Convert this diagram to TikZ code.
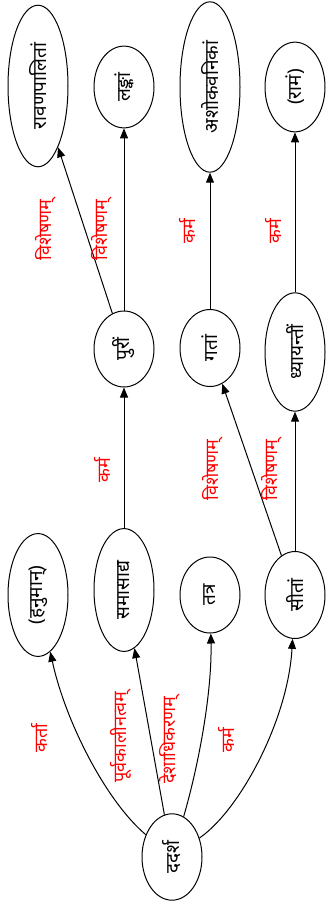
\documentclass[tikz,border=0pt]{standalone}
\usepackage{fontspec}
\newfontfamily\deva[Script=Devanagari]{Noto Sans}
\usetikzlibrary{shapes.geometric,arrows.meta,positioning}
\tikzset{>={Triangle[length=10pt,width=8pt]}}
\tikzset{word/.style={ellipse, draw, line width=1pt, rotate=90, inner xsep=14pt,
    inner ysep=3pt, minimum height=60pt, minimum width=76pt,
    font=\deva\fontsize{19}{22}\selectfont}}
\tikzset{rel/.style={text=red, rotate=90, inner sep=0pt,
    font=\deva\fontsize{18}{21}\selectfont}}

\begin{document}
\begin{tikzpicture}[x=1pt, y=-1pt, line width=1pt]
  \useasboundingbox (0,0) rectangle (326,901);
  % words
  \node[word] (dadarsha) at (172,857) {ददर्श};
  \node[word] (hanuman) at (38,595) {(हनुमान्)};
  \node[word] (samasadya) at (124,590) {समासाद्य};
  \node[word] (tatra) at (210,595) {तत्र};
  \node[word] (sitam) at (295,595) {सीतां};
  \node[word] (purim) at (124,349) {पुरीं};
  \node[word] (gatam) at (210,348) {गतां};
  \node[word] (dhyayantim) at (295,352) {ध्यायन्तीं};
  \node[word] (ravanapalitam) at (38,86) {रावणपालितां};
  \node[word] (lankam) at (124,87) {लङ्कां};
  \node[word] (ashokavanikam) at (210,87) {अशोकवनिकां};
  \node[word] (ramam) at (295,87) {(रामं)};
  % relations
  \draw[->] (dadarsha) .. controls (105,800) and (65,720) .. (hanuman);
  \draw[->] (dadarsha) -- (samasadya);
  \draw[->] (dadarsha) .. controls (200,760) and (212,690) .. (tatra);
  \draw[->] (dadarsha) .. controls (240,810) and (288,720) .. (sitam);
  \draw[->] (samasadya) -- (purim);
  \draw[->] (purim) -- (ravanapalitam);
  \draw[->] (purim) -- (lankam);
  \draw[->] (sitam) -- (gatam);
  \draw[->] (sitam) -- (dhyayantim);
  \draw[->] (gatam) -- (ashokavanikam);
  \draw[->] (dhyayantim) -- (ramam);
  % labels
  \node[rel] (karta) at (40,738) {कर्ता};
  \node[rel] (purvakalinatvam) at (121,737) {पूर्वकालीनत्वम्};
  \node[rel] (deshadhikaranam) at (170,740) {देशाधिकरणम्};
  \node[rel] (karma1) at (226,740) {कर्म};
  \node[rel] (karma2) at (102,470) {कर्म};
  \node[rel] (visheshanam1) at (213,470) {विशेषणम्};
  \node[rel] (visheshanam2) at (272,470) {विशेषणम्};
  \node[rel] (visheshanam3) at (46,230) {विशेषणम्};
  \node[rel] (visheshanam4) at (102,230) {विशेषणम्};
  \node[rel] (karma3) at (187,231) {कर्म};
  \node[rel] (karma4) at (273,231) {कर्म};
\end{tikzpicture}
\end{document}
